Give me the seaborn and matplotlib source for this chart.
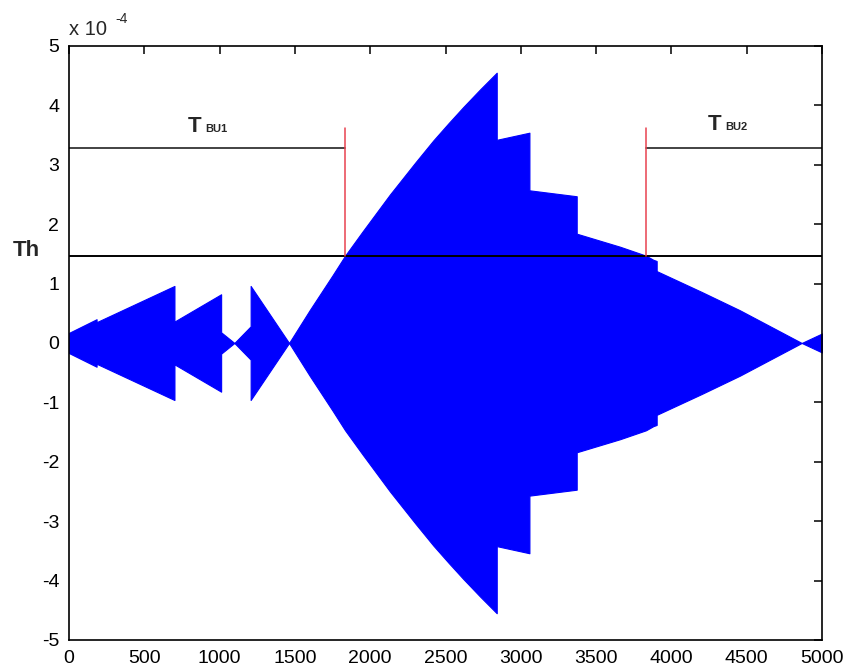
import numpy as np
import matplotlib
matplotlib.use("Agg")
import matplotlib.pyplot as plt
import seaborn as sns

# envelope of the dense oscillation (amplitude, units of 1e-4)
env_x = [0, 183, 183, 700, 700, 1010, 1010, 1098, 1206, 1206, 1461, 1600,
         1750, 1833, 1950, 2131, 2300, 2419, 2520, 2617, 2730, 2840, 2840,
         3057, 3057, 3371, 3371, 3659, 3831, 3880, 3902, 3902, 4200, 4455,
         4865, 5000]
env_amp = [0.17, 0.40, 0.35, 0.96, 0.36, 0.82, 0.18, 0.0, 0.28, 0.96, 0.0, 0.56,
           1.14, 1.47, 1.88, 2.50, 3.04, 3.41, 3.70, 3.97, 4.27, 4.55, 3.42,
           3.54, 2.57, 2.47, 1.84, 1.62, 1.47, 1.40, 1.38, 1.21, 0.86, 0.55,
           0.0, 0.16]

threshold = 1.47
t_bu_level = 3.28
t_bu1_end = 1833
t_bu2_start = 3831
marker_top = 3.62

x_ticks = list(range(0, 5001, 500))
y_ticks = list(range(-5, 6))

sns.set_theme(style="white")
plt.rcParams["font.family"] = ["Liberation Sans", "DejaVu Sans"]

fig = plt.figure(figsize=(8.5, 6.7), dpi=100)
ax = fig.add_axes([0.0812, 0.0448, 0.8859, 0.8866])

amp = np.array(env_amp)
ax.fill_between(env_x, -amp, amp, color="#0000ff", linewidth=0.8, edgecolor="#0000ff")

# threshold and breakup markers
sns.lineplot(x=[0, 5000], y=[threshold, threshold], color="black", linewidth=1.4,
             estimator=None, ax=ax)
sns.lineplot(x=[0, t_bu1_end], y=[t_bu_level, t_bu_level], color="#222222",
             linewidth=1.2, estimator=None, ax=ax)
sns.lineplot(x=[t_bu2_start, 5000], y=[t_bu_level, t_bu_level], color="#222222",
             linewidth=1.2, estimator=None, ax=ax)
for xv in [t_bu1_end, t_bu2_start]:
    ax.plot([xv, xv], [threshold, marker_top], color="#e8424f", linewidth=1.1)

ax.text(790, 3.56, "T", fontsize=16, fontweight="bold", va="baseline", ha="left")
ax.text(905, 3.56, "BU1", fontsize=8, fontweight="bold", va="baseline", ha="left")
ax.text(4243, 3.59, "T", fontsize=16, fontweight="bold", va="baseline", ha="left")
ax.text(4355, 3.59, "BU2", fontsize=8, fontweight="bold", va="baseline", ha="left")
ax.text(-285, 1.55, "Th", fontsize=16, fontweight="bold", va="center", ha="center",
        clip_on=False)

ax.text(0.0, 1.012, "x 10", transform=ax.transAxes, fontsize=14.5, va="bottom", ha="left")
ax.text(0.062, 1.034, "-4", transform=ax.transAxes, fontsize=10, va="bottom", ha="left")

ax.set_xlim(0, 5000)
ax.set_ylim(-5, 5)
ax.set_xticks(x_ticks)
ax.set_yticks(y_ticks)
ax.set_xticklabels([str(v) for v in x_ticks])
ax.set_yticklabels([str(v) for v in y_ticks])
ax.tick_params(direction="in", top=True, right=True, length=6, width=1.1,
               labelsize=14, colors="black", pad=7)
for s in ax.spines.values():
    s.set_color("black")
    s.set_linewidth(1.2)
ax.set_xlabel("")
ax.set_ylabel("")
if ax.get_legend():
    ax.get_legend().remove()

fig.savefig("out.png", dpi=100)
